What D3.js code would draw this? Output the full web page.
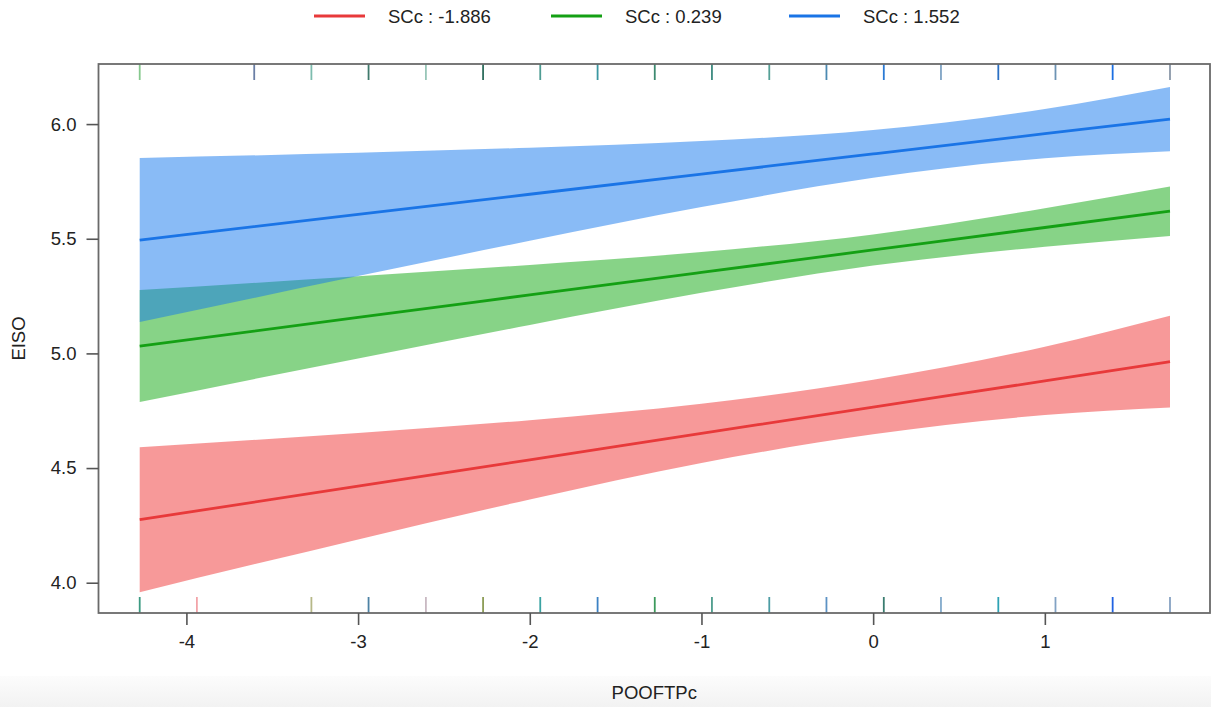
<!DOCTYPE html>
<html>
<head>
<meta charset="utf-8">
<script src="https://cdn.jsdelivr.net/npm/d3@7/dist/d3.min.js"></script>
<style>
  html, body { margin: 0; padding: 0; background: #ffffff; }
  svg { display: block; font-family: "Liberation Sans", Arial, Helvetica, sans-serif; }
</style>
</head>
<body>
<svg id="chart" width="1211" height="707"></svg>
<script>
// ---- data ----
const seriesNames = ["SCc : -1.886", "SCc : 0.239", "SCc : 1.552"];
const xValues = [-4.272, -3, -2, -1, 0, 1, 1.729];
const redFit   = [4.275, 4.421, 4.536, 4.651, 4.766, 4.880, 4.964];
const redUpper = [4.591, 4.653, 4.709, 4.780, 4.885, 5.029, 5.164];
const redLower = [3.959, 4.189, 4.363, 4.522, 4.647, 4.731, 4.764];
const greenFit   = [5.032, 5.157, 5.255, 5.353, 5.451, 5.549, 5.620];
const greenUpper = [5.276, 5.336, 5.386, 5.442, 5.519, 5.633, 5.728];
const greenLower = [4.788, 4.978, 5.124, 5.264, 5.383, 5.465, 5.512];
const blueFit   = [5.494, 5.606, 5.694, 5.782, 5.870, 5.958, 6.022];
const blueUpper = [5.852, 5.875, 5.897, 5.926, 5.974, 6.066, 6.162];
const blueLower = [5.137, 5.337, 5.491, 5.638, 5.766, 5.851, 5.882];
const xTicks = [-4, -3, -2, -1, 0, 1];
const xTickLabels = ["-4", "-3", "-2", "-1", "0", "1"];
const yTicks = [4.0, 4.5, 5.0, 5.5, 6.0];
const yTickLabels = ["4.0", "4.5", "5.0", "5.5", "6.0"];
const rugTop = [-4.272, -3.605, -3.272, -2.939, -2.605, -2.272, -1.939, -1.605, -1.272, -0.939, -0.605, -0.272, 0.062, 0.395, 0.729, 1.062, 1.395, 1.729];
const rugBottom = [-4.272, -3.939, -3.272, -2.939, -2.605, -2.272, -1.939, -1.605, -1.272, -0.939, -0.605, -0.272, 0.062, 0.395, 0.729, 1.062, 1.395, 1.729];
const xTitle = "POOFTPc";
const yTitle = "EISO";

// ---- styles ----
const lineColors = ["#e8393a", "#14a014", "#1a74e6"];
const bandColors = ["rgb(239,52,52)", "rgb(16,168,16)", "rgb(20,120,238)"];
const rugTopColors = ["#86c88e", "#6b7fa6", "#7dbcae", "#3f7a6c", "#98c6b8", "#2f6e5e", "#4f9c93", "#3b98a2", "#3d8a70", "#3d8a80", "#55a096", "#4c8ab2", "#2a7ad4", "#7fa3c4", "#2b70c4", "#6d93b4", "#1c6fe2", "#8a98a8"];
const rugBottomColors = ["#3c9a82", "#f2a3a8", "#b6b888", "#4d82a4", "#c9b9c2", "#8c9c56", "#3aa2a2", "#3c82c4", "#3c9a5c", "#4d9c8c", "#4c9ca4", "#5c92c4", "#3a7c70", "#82aacb", "#2ea2b4", "#82a2c4", "#2062e2", "#86a2c2"];

(function () {
const svg = d3.select("#chart");
const W = 1211, H = 707;

// bottom grey strip
const defs = svg.append("defs");
const grad = defs.append("linearGradient").attr("id", "bg").attr("x1", 0).attr("y1", 0).attr("x2", 0).attr("y2", 1);
grad.append("stop").attr("offset", "0%").attr("stop-color", "#fcfcfc");
grad.append("stop").attr("offset", "100%").attr("stop-color", "#f2f2f2");
svg.append("rect").attr("x", 0).attr("y", 676).attr("width", W).attr("height", H - 676).attr("fill", "url(#bg)");

const pL = 98.5, pR = 1210, pT = 64, pB = 613;
const x = d3.scaleLinear().domain([-4.512, 1.962]).range([pL, pR]);
const y = d3.scaleLinear().domain([3.868, 6.262]).range([pB, pT]);

const plot = svg.append("g");

const groups = [
  {fit: redFit, up: redUpper, lo: redLower},
  {fit: greenFit, up: greenUpper, lo: greenLower},
  {fit: blueFit, up: blueUpper, lo: blueLower}
];

const area = d3.area()
  .x((d, i) => x(xValues[i]))
  .y0(d => y(d[0]))
  .y1(d => y(d[1]))
  .curve(d3.curveMonotoneX);
const line = d3.line()
  .x((d, i) => x(xValues[i]))
  .y(d => y(d))
  .curve(d3.curveMonotoneX);

groups.forEach((g, k) => {
  const pts = g.lo.map((v, i) => [v, g.up[i]]);
  plot.append("path").attr("d", area(pts))
    .attr("fill", bandColors[k]).attr("fill-opacity", 0.5).attr("stroke", "none");
});
groups.forEach((g, k) => {
  plot.append("path").attr("d", line(g.fit))
    .attr("fill", "none").attr("stroke", lineColors[k]).attr("stroke-width", 2.8);
});

// rugs
const rugLen = 16;
svg.append("g").selectAll("line").data(rugTop).join("line")
  .attr("x1", d => x(d)).attr("x2", d => x(d))
  .attr("y1", pT).attr("y2", pT + rugLen)
  .attr("stroke", (d, i) => rugTopColors[i]).attr("stroke-width", 1.8);
svg.append("g").selectAll("line").data(rugBottom).join("line")
  .attr("x1", d => x(d)).attr("x2", d => x(d))
  .attr("y1", pB - rugLen).attr("y2", pB)
  .attr("stroke", (d, i) => rugBottomColors[i]).attr("stroke-width", 1.8);

// frame
svg.append("rect").attr("x", pL).attr("y", pT).attr("width", pR - pL).attr("height", pB - pT)
  .attr("fill", "none").attr("stroke", "#6a6a6a").attr("stroke-width", 1.8);

// axes
const fontSize = 18.5;
const xAxis = d3.axisBottom(x).tickValues(xTicks).tickSize(12).tickPadding(10)
  .tickFormat((d, i) => xTickLabels[i]);
const gx = svg.append("g").attr("transform", `translate(0,${pB})`).call(xAxis);
gx.select(".domain").remove();
gx.selectAll(".tick line").attr("stroke", "#555").attr("stroke-width", 1.6);
gx.selectAll(".tick text").attr("font-size", fontSize).attr("fill", "#222").attr("font-family", "Liberation Sans, Arial, sans-serif");

const yAxis = d3.axisLeft(y).tickValues(yTicks).tickSize(12).tickPadding(10)
  .tickFormat((d, i) => yTickLabels[i]);
const gy = svg.append("g").attr("transform", `translate(${pL},0)`).call(yAxis);
gy.select(".domain").remove();
gy.selectAll(".tick line").attr("stroke", "#555").attr("stroke-width", 1.6);
gy.selectAll(".tick text").attr("font-size", fontSize).attr("fill", "#222").attr("font-family", "Liberation Sans, Arial, sans-serif");

// titles
svg.append("text").attr("x", (pL + pR) / 2).attr("y", 699).attr("text-anchor", "middle")
  .attr("font-size", fontSize).attr("fill", "#222").text(xTitle);
svg.append("text").attr("transform", `translate(25,${(pT + pB) / 2}) rotate(-90)`).attr("text-anchor", "middle")
  .attr("font-size", fontSize).attr("fill", "#222").text(yTitle);

// legend
const legendLineX = [314, 551, 789];
const legend = svg.append("g");
seriesNames.forEach((name, k) => {
  legend.append("line").attr("x1", legendLineX[k]).attr("x2", legendLineX[k] + 51)
    .attr("y1", 16).attr("y2", 16).attr("stroke", lineColors[k]).attr("stroke-width", 2.8);
  legend.append("text").attr("x", legendLineX[k] + 74).attr("y", 23)
    .attr("font-size", fontSize).attr("fill", "#222").text(name);
});
})();
</script>
</body>
</html>
